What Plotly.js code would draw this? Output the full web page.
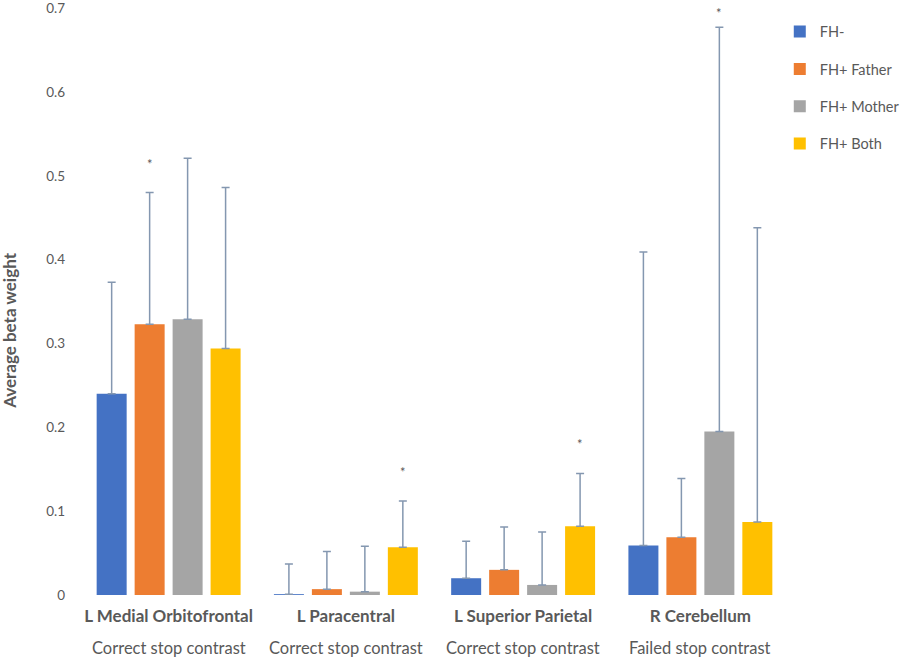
<!DOCTYPE html>
<html>
<head>
<meta charset="utf-8">
<script src="https://cdn.plot.ly/plotly-3.0.1.min.js"></script>
<style>html,body{margin:0;padding:0;background:#fff;}#chart{width:900px;height:658px;}</style>
</head>
<body>
<div id="chart"></div>
<script>
// Data
var regions = ["L Medial Orbitofrontal", "L Paracentral", "L Superior Parietal", "R Cerebellum"];
var contrasts = ["Correct stop contrast", "Correct stop contrast", "Correct stop contrast", "Failed stop contrast"];
var seriesNames = ["FH-", "FH+ Father", "FH+ Mother", "FH+ Both"];

var fhNeg     = [0.240, 0.001, 0.020, 0.059];
var fhFather  = [0.323, 0.007, 0.030, 0.069];
var fhMother  = [0.329, 0.004, 0.012, 0.195];
var fhBoth    = [0.294, 0.057, 0.082, 0.087];

var errFhNeg    = [0.133, 0.036, 0.044, 0.350];
var errFhFather = [0.157, 0.045, 0.051, 0.070];
var errFhMother = [0.192, 0.054, 0.063, 0.482];
var errFhBoth   = [0.192, 0.055, 0.063, 0.351];

// significance stars: series index per region
var starSeries = [1, 3, 3, 2];

var yTitle = "Average beta weight";

var colors = ["#4472c4", "#ed7d31", "#a5a5a5", "#ffc000"];
var values = [fhNeg, fhFather, fhMother, fhBoth];
var errors = [errFhNeg, errFhFather, errFhMother, errFhBoth];

var traces = seriesNames.map(function(name, i){
  return {
    type: 'bar',
    name: name,
    x: regions,
    y: values[i],
    marker: {color: colors[i]},
    legendgroup: 'g' + i,
    error_y: {
      type: 'data', symmetric: false,
      array: errors[i],
      arrayminus: values[i].map(function(){return 0;}),
      color: '#8497b0', thickness: 1.5, width: 4
    },
    hoverinfo: 'x+y+name'
  };
});

var annotations = [];
// second line of category labels
regions.forEach(function(r, k){
  annotations.push({
    x: r, xref: 'x', y: 0, yref: 'paper',
    yanchor: 'top', yshift: -41, showarrow: false,
    text: contrasts[k],
    font: {family: 'Lato, sans-serif', size: 16.5, color: '#595959'}
  });
});
// stars
var slotOffsets = [-57, -19, 19, 57];
starSeries.forEach(function(s, k){
  var top = values[s][k] + errors[s][k];
  annotations.push({
    x: regions[k], xref: 'x', y: top, yref: 'y',
    xshift: slotOffsets[s], yshift: top > 0.6 ? 14 : 29,
    showarrow: false, text: '*',
    font: {family: 'Lato, sans-serif', size: 13, color: '#595959'}
  });
});
// y-axis title (rotated)
annotations.push({
  x: 0, xref: 'paper', xshift: -70, xanchor: 'center',
  y: 0.45, yref: 'paper', yanchor: 'middle',
  textangle: -90, showarrow: false,
  text: '<b>' + yTitle + '</b>',
  font: {family: 'Lato, sans-serif', size: 17, color: '#595959'}
});

var layout = {
  width: 900, height: 658,
  margin: {l: 80, r: 111, t: 8, b: 63, autoexpand: false},
  paper_bgcolor: '#fff', plot_bgcolor: '#fff',
  barmode: 'group',
  bargap: 0.143,
  bargroupgap: 0.21,
  font: {family: 'Lato, sans-serif', color: '#595959'},
  xaxis: {
    type: 'category',
    tickmode: 'array', tickvals: regions,
    ticktext: regions.map(function(r){return '<b>' + r + '</b>';}),
    tickfont: {size: 17, color: '#595959'},
    showline: false, showgrid: false, zeroline: false, ticks: '',
    ticklabelstandoff: 9
  },
  yaxis: {
    range: [0, 0.7001], dtick: 0.1, tick0: 0,
    showgrid: false, zeroline: false, showline: false, ticks: '',
    tickfont: {size: 13.5, color: '#595959'},
    ticklabelstandoff: 14,
    ticklabeloverflow: 'allow'
  },
  legend: {
    x: 0.987, y: 0.987, xanchor: 'left', yanchor: 'top',
    font: {size: 14.5, color: '#595959'},
    tracegroupgap: 15.5,
    traceorder: 'grouped',
    itemwidth: 30
  },
  annotations: annotations,
  showlegend: true
};

Plotly.newPlot('chart', traces, layout, {displayModeBar: false, staticPlot: true});
</script>
</body>
</html>
